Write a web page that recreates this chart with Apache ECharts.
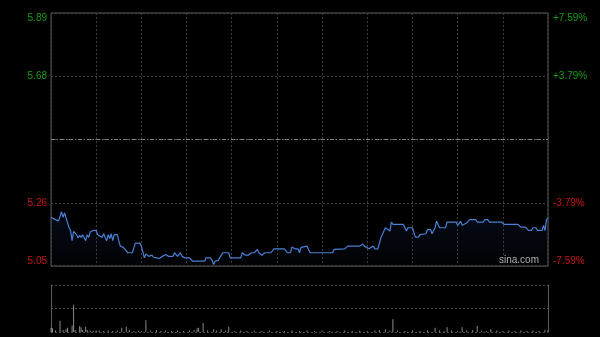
<!DOCTYPE html>
<html>
<head>
<meta charset="utf-8">
<script src="https://cdn.jsdelivr.net/npm/echarts@6/dist/echarts.min.js"></script>
<style>
html,body{margin:0;padding:0;background:#000;}
#c{width:600px;height:337px;}
</style>
</head>
<body>
<div id="c"></div>
<script>
// ---- data ----
const prevClose = 5.47;
const priceMin = 5.05, priceMax = 5.89, priceStep = 0.21;
const leftLabels = ['5.05', '5.26', '', '5.68', '5.89'];
const rightLabels = ['-7.59%', '-3.79%', '', '+3.79%', '+7.59%'];
const sessionMinutes = 330;

const times = [0,1,3,4,5,7,8,9,10,12,13,14,15,17,18,19,20,21,23,24,25,26,27,28,30,31,34,35,36,37,38,39,40,41,42,44,45,46,48,49,51,54,55,56,59,60,62,63,65,67,68,70,72,74,76,78,81,82,84,86,87,89,92,94,102,103,106,107,108,109,111,112,114,118,119,126,127,129,131,133,135,137,138,139,140,142,146,148,155,157,159,160,162,164,165,166,167,170,172,187,188,195,197,205,207,208,211,212,214,215,217,219,220,222,223,225,226,227,234,236,237,240,242,244,245,249,250,252,253,255,256,257,258,262,263,269,270,272,273,274,276,278,282,283,287,288,290,291,299,301,310,312,315,317,319,320,322,323,326,327,328,329,330];
const prices = [5.212,5.215,5.204,5.21,5.20,5.23,5.212,5.226,5.21,5.177,5.168,5.134,5.165,5.154,5.143,5.152,5.145,5.154,5.134,5.154,5.145,5.163,5.157,5.168,5.168,5.154,5.145,5.157,5.145,5.134,5.154,5.141,5.157,5.134,5.154,5.154,5.134,5.116,5.112,5.11,5.094,5.094,5.11,5.126,5.126,5.116,5.077,5.09,5.082,5.086,5.079,5.077,5.075,5.082,5.088,5.082,5.082,5.094,5.082,5.094,5.082,5.077,5.077,5.066,5.066,5.077,5.077,5.068,5.055,5.066,5.068,5.077,5.094,5.094,5.077,5.077,5.094,5.086,5.086,5.094,5.094,5.105,5.094,5.094,5.086,5.094,5.094,5.107,5.107,5.094,5.094,5.113,5.107,5.107,5.094,5.112,5.116,5.116,5.094,5.094,5.105,5.107,5.116,5.116,5.123,5.116,5.107,5.107,5.116,5.107,5.107,5.143,5.149,5.177,5.171,5.166,5.196,5.188,5.188,5.166,5.177,5.177,5.146,5.146,5.154,5.157,5.171,5.171,5.157,5.177,5.199,5.188,5.177,5.177,5.196,5.196,5.185,5.199,5.185,5.179,5.193,5.204,5.204,5.196,5.196,5.204,5.204,5.196,5.196,5.188,5.188,5.179,5.179,5.168,5.168,5.177,5.177,5.168,5.168,5.185,5.168,5.204,5.21];

const volTimes = [0,1,3,6,8,10,11,14,15,16,19,20,21,23,24,26,28,30,32,35,38,41,44,47,50,52,55,58,60,63,66,70,73,76,80,84,88,92,95,97,98,101,104,108,110,113,116,118,122,126,130,135,140,145,150,155,160,165,170,175,180,185,190,195,200,205,210,215,218,222,225,227,230,235,240,245,250,255,258,261,263,266,270,273,276,280,283,286,289,292,296,300,304,308,312,316,320,324,328,330];
const volValues = [9,8,3,24,4,6,9,14,58,4,12,10,4,11,4,3,2,3,3,2,3,2,3,9,11,4,2,3,2,25,3,4,2,3,2,3,2,3,4,8,9,19,3,6,3,6,3,11,2,3,2,3,2,3,2,2,3,2,3,2,3,2,2,3,2,3,2,3,4,6,3,27,3,2,3,2,3,9,3,2,10,3,2,10,3,4,13,3,2,6,3,2,3,2,3,2,3,2,5,4];
const volMax = 100;

// ---- chart ----
const priceData = times.map((t, i) => [t, prices[i]]);
const volData = volTimes.map((t, i) => [t, volValues[i]]);

const chart = echarts.init(document.getElementById('c'), null, {renderer: 'canvas'});
const FONT = 'Liberation Sans';
const labelRich = {
  up: {color: '#1a9c1a', fontSize: 10, fontFamily: FONT},
  dn: {color: '#cc1414', fontSize: 10, fontFamily: FONT}
};
const fmt = (arr) => (v, idx) => {
  const s = arr[idx];
  if (!s) return '';
  return (idx > 2 ? '{up|' : '{dn|') + s + '}';
};

chart.setOption({
  animation: false,
  backgroundColor: '#000',
  grid: [
    {left: 51, right: 52, top: 13, height: 253, show: true, borderColor: '#5c5c5c', borderWidth: 1, backgroundColor: 'transparent'},
    {left: 51, right: 52, top: 285, height: 47}
  ],
  xAxis: [
    {type: 'value', gridIndex: 0, min: 0, max: sessionMinutes, interval: 30,
     axisLine: {show: false}, axisTick: {show: false}, axisLabel: {show: false},
     splitLine: {show: true, lineStyle: {color: '#3c3c3c', type: [2, 2], width: 1}}},
    {type: 'value', gridIndex: 1, min: 0, max: sessionMinutes, interval: 30,
     axisLine: {show: false}, axisTick: {show: false}, axisLabel: {show: false},
     splitLine: {show: false}}
  ],
  yAxis: [
    {type: 'value', gridIndex: 0, min: priceMin, max: priceMax, interval: priceStep, position: 'left',
     axisLine: {show: false}, axisTick: {show: false},
     axisLabel: {formatter: fmt(leftLabels), rich: labelRich, margin: 4,
                 verticalAlignMinLabel: 'bottom', verticalAlignMaxLabel: 'top'},
     splitLine: {show: true, lineStyle: {color: '#444', type: [2, 2], width: 1}}},
    {type: 'value', gridIndex: 0, min: priceMin, max: priceMax, interval: priceStep, position: 'right',
     axisLine: {show: false}, axisTick: {show: false},
     axisLabel: {formatter: fmt(rightLabels), rich: labelRich, margin: 5, align: 'left',
                 verticalAlignMinLabel: 'bottom', verticalAlignMaxLabel: 'top'},
     splitLine: {show: false}},
    {type: 'value', gridIndex: 1, min: 0, max: volMax, interval: volMax / 2, position: 'left',
     axisLine: {show: true, lineStyle: {color: '#5c5c5c', width: 1}}, axisTick: {show: false}, axisLabel: {show: false},
     splitLine: {show: true, lineStyle: {color: '#4a4a4a', type: [2, 2], width: 1}}},
    {type: 'value', gridIndex: 1, min: 0, max: volMax, interval: volMax / 2, position: 'right',
     axisLine: {show: true, lineStyle: {color: '#5c5c5c', width: 1}}, axisTick: {show: false}, axisLabel: {show: false},
     splitLine: {show: false}}
  ],
  graphic: [
    {type: 'text', left: 499, top: 255, silent: true,
     style: {text: 'sina.com', fill: '#b4b4b4', font: '10px "Liberation Sans"'}}
  ],
  series: [
    {type: 'line', xAxisIndex: 0, yAxisIndex: 0, data: priceData, showSymbol: false, symbol: 'none',
     lineStyle: {color: '#4a7fd6', width: 1.2},
     areaStyle: {origin: 'start', color: new echarts.graphic.LinearGradient(0, 0, 0, 1, [
        {offset: 0, color: 'rgba(40,70,140,0.22)'}, {offset: 1, color: 'rgba(40,70,140,0.04)'}])},
     markLine: {silent: true, symbol: 'none', label: {show: false},
       lineStyle: {color: '#808080', type: [4, 2, 1, 2], width: 1},
       data: [{yAxis: prevClose}]}},
    {type: 'bar', xAxisIndex: 1, yAxisIndex: 2, data: volData, barWidth: 1,
     itemStyle: {color: '#8a8a8a'}}
  ]
});
</script>
</body>
</html>
